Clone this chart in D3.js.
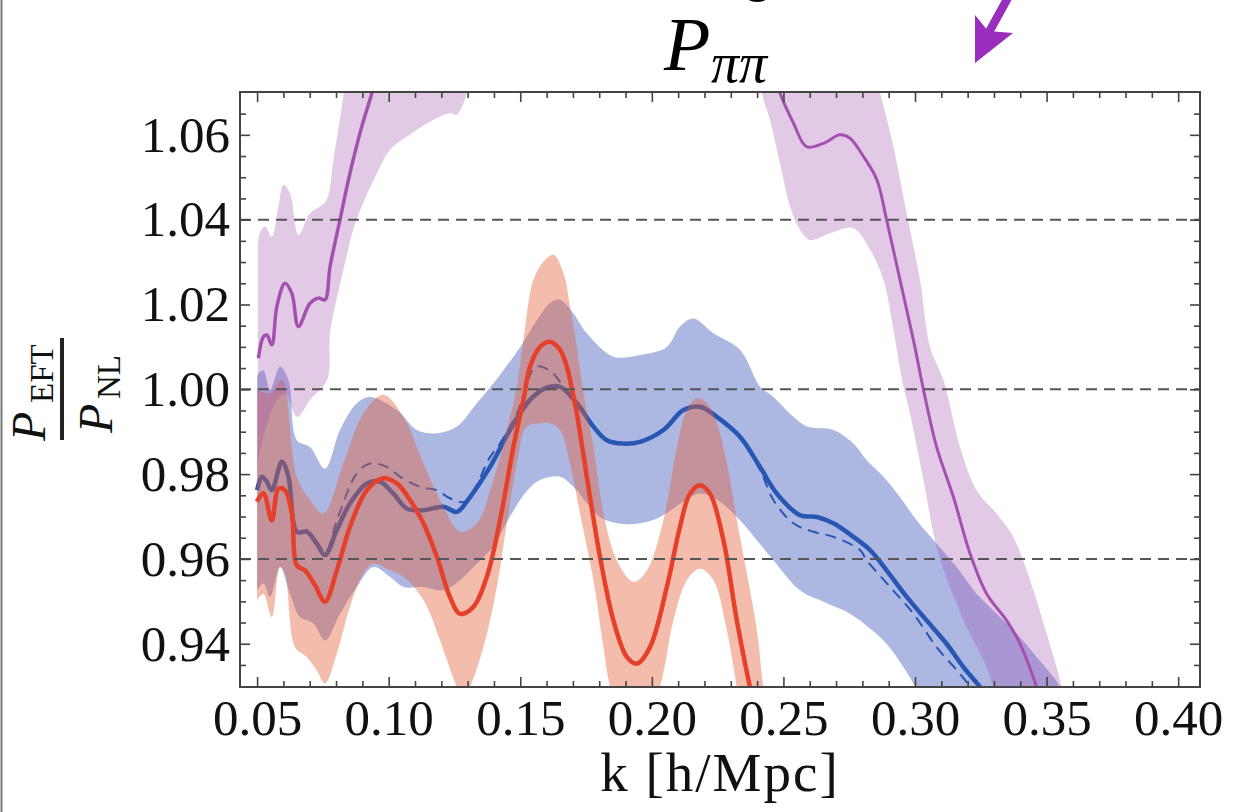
<!DOCTYPE html>
<html><head><meta charset="utf-8">
<script src="https://cdn.jsdelivr.net/npm/d3@7"></script>
<style>html,body{margin:0;padding:0;background:#fff;}</style>
</head><body>
<script>
// ---------- data (k, ratio) ----------
const xMajorTicks = [0.05,0.10,0.15,0.20,0.25,0.30,0.35,0.40];
const xMinorTicks = [0.06,0.07,0.08,0.09,0.11,0.12,0.13,0.14,0.16,0.17,0.18,0.19,0.21,0.22,0.23,0.24,0.26,0.27,0.28,0.29,0.31,0.32,0.33,0.34,0.36,0.37,0.38,0.39];
const yMajorTicks = [0.94,0.96,0.98,1.00,1.02,1.04,1.06];
const yMinorTicks = [0.935,0.945,0.95,0.955,0.965,0.97,0.975,0.985,0.99,0.995,1.005,1.01,1.015,1.025,1.03,1.035,1.045,1.05,1.055,1.065];
const gridValues = [0.96,1.00,1.04];

const purpleLeftMean = [[0.0505,1.0073],[0.0524,1.0124],[0.0537,1.0128],[0.0556,1.0105],[0.0575,1.0195],[0.0606,1.0250],[0.0632,1.0226],[0.0657,1.0148],[0.0701,1.0203],[0.0733,1.0215],[0.0758,1.0211],[0.0777,1.0289],[0.0815,1.0400],[0.0853,1.0510],[0.0898,1.0620],[0.0936,1.0698],[0.0970,1.0780]];
const purpleLeftUpper = [[0.0503,1.0330],[0.0510,1.0368],[0.0530,1.0384],[0.0556,1.0360],[0.0581,1.0431],[0.0600,1.0482],[0.0625,1.0462],[0.0657,1.0364],[0.0701,1.0415],[0.0739,1.0431],[0.0765,1.0447],[0.0790,1.0541],[0.0822,1.0667],[0.0840,1.0750],[0.0870,1.0850]];
const purpleLeftLower = [[0.0503,0.9830],[0.0561,0.9959],[0.0606,0.9990],[0.0652,0.9935],[0.0701,0.9975],[0.0766,1.0022],[0.0777,1.0133],[0.0804,1.0218],[0.0834,1.0298],[0.0865,1.0376],[0.0903,1.0439],[0.0956,1.0510],[0.1005,1.0565],[0.1070,1.0596],[0.1157,1.0631],[0.1233,1.0651],[0.1258,1.0647],[0.1298,1.0698],[0.1320,1.0750]];

const purpleRightMean = [[0.2450,1.0780],[0.2487,1.0698],[0.2538,1.0628],[0.2588,1.0572],[0.2652,1.0580],[0.2715,1.0600],[0.2753,1.0592],[0.2804,1.0549],[0.2855,1.0494],[0.2892,1.0400],[0.2943,1.0258],[0.2994,1.0116],[0.3038,0.9982],[0.3082,0.9864],[0.3146,0.9746],[0.3209,0.9613],[0.3272,0.9518],[0.3348,0.9455],[0.3399,0.9400],[0.3462,0.9298],[0.3490,0.9240]];
const purpleRightUpper = [[0.2400,1.0900],[0.2800,1.0850],[0.2867,1.0700],[0.2918,1.0572],[0.2968,1.0415],[0.3019,1.0258],[0.3057,1.0100],[0.3108,1.0022],[0.3171,0.9864],[0.3234,0.9762],[0.3310,0.9707],[0.3373,0.9652],[0.3437,0.9550],[0.3500,0.9424],[0.3557,0.9298],[0.3580,0.9200]];
const purpleRightLower = [[0.2380,1.0850],[0.2418,1.0698],[0.2449,1.0635],[0.2487,1.0533],[0.2525,1.0431],[0.2563,1.0376],[0.2601,1.0352],[0.2677,1.0368],[0.2766,1.0380],[0.2829,1.0329],[0.2880,1.0258],[0.2918,1.0140],[0.2956,1.0006],[0.2981,0.9943],[0.3032,0.9786],[0.3082,0.9628],[0.3133,0.9534],[0.3196,0.9440],[0.3260,0.9361],[0.3297,0.9298],[0.3320,0.9200]];

const redMean = [[0.0499,0.9735],[0.0524,0.9755],[0.0556,0.9691],[0.0581,0.9766],[0.0606,0.9762],[0.0632,0.9707],[0.0651,0.9585],[0.0682,0.9573],[0.0720,0.9538],[0.0758,0.9499],[0.0803,0.9573],[0.0853,0.9676],[0.0917,0.9762],[0.0980,0.9790],[0.1031,0.9778],[0.1081,0.9739],[0.1132,0.9684],[0.1183,0.9605],[0.1233,0.9510],[0.1271,0.9471],[0.1322,0.9487],[0.1373,0.9558],[0.1423,0.9691],[0.1474,0.9864],[0.1512,0.9975],[0.1537,1.0053],[0.1575,1.0100],[0.1613,1.0112],[0.1651,1.0093],[0.1677,1.0053],[0.1702,0.9983],[0.1715,0.9943],[0.1765,0.9746],[0.1803,0.9605],[0.1854,0.9455],[0.1905,0.9369],[0.1943,0.9353],[0.1993,0.9392],[0.2057,0.9534],[0.2107,0.9676],[0.2145,0.9754],[0.2183,0.9774],[0.2221,0.9754],[0.2272,0.9644],[0.2323,0.9455],[0.2373,0.9298],[0.2400,0.9230]];
const redUpper = [[0.0500,1.0000],[0.0549,0.9990],[0.0594,1.0022],[0.0651,0.9794],[0.0701,0.9739],[0.0752,0.9707],[0.0828,0.9825],[0.0904,0.9943],[0.0980,0.9987],[0.1056,0.9935],[0.1132,0.9825],[0.1208,0.9723],[0.1271,0.9664],[0.1335,0.9684],[0.1398,0.9786],[0.1449,0.9904],[0.1487,1.0006],[0.1512,1.0116],[0.1550,1.0258],[0.1594,1.0305],[0.1626,1.0317],[0.1664,1.0274],[0.1689,1.0195],[0.1715,1.0100],[0.1740,0.9990],[0.1778,0.9864],[0.1816,0.9707],[0.1867,0.9597],[0.1930,0.9546],[0.1981,0.9573],[0.2044,0.9691],[0.2095,0.9864],[0.2133,0.9951],[0.2171,0.9979],[0.2209,0.9967],[0.2247,0.9920],[0.2285,0.9825],[0.2323,0.9691],[0.2361,0.9566],[0.2399,0.9432],[0.2424,0.9298],[0.2450,0.9200]];
const redLower = [[0.0500,0.9503],[0.0524,0.9518],[0.0556,0.9463],[0.0587,0.9581],[0.0606,0.9565],[0.0644,0.9392],[0.0689,0.9369],[0.0727,0.9337],[0.0758,0.9306],[0.0803,0.9377],[0.0853,0.9487],[0.0904,0.9566],[0.0942,0.9589],[0.1000,0.9575],[0.1056,0.9558],[0.1132,0.9503],[0.1195,0.9408],[0.1259,0.9298],[0.1285,0.9270],[0.1309,0.9298],[0.1360,0.9392],[0.1411,0.9534],[0.1449,0.9684],[0.1487,0.9825],[0.1525,0.9912],[0.1575,0.9920],[0.1613,0.9920],[0.1651,0.9904],[0.1689,0.9825],[0.1727,0.9707],[0.1778,0.9550],[0.1816,0.9392],[0.1841,0.9298],[0.1900,0.9170],[0.1950,0.9160],[0.2031,0.9298],[0.2082,0.9455],[0.2133,0.9550],[0.2183,0.9577],[0.2234,0.9550],[0.2285,0.9432],[0.2323,0.9298],[0.2350,0.9200]];

const blueMean = [[0.0500,0.9762],[0.0518,0.9794],[0.0537,0.9782],[0.0556,0.9762],[0.0594,0.9829],[0.0619,0.9794],[0.0651,0.9664],[0.0689,0.9664],[0.0727,0.9636],[0.0758,0.9609],[0.0803,0.9668],[0.0853,0.9731],[0.0917,0.9778],[0.0967,0.9782],[0.1018,0.9754],[0.1069,0.9719],[0.1132,0.9715],[0.1208,0.9723],[0.1259,0.9711],[0.1309,0.9746],[0.1385,0.9817],[0.1461,0.9904],[0.1537,0.9975],[0.1600,1.0004],[0.1651,1.0006],[0.1715,0.9967],[0.1778,0.9912],[0.1829,0.9880],[0.1892,0.9872],[0.1955,0.9876],[0.2044,0.9904],[0.2120,0.9951],[0.2183,0.9959],[0.2247,0.9935],[0.2335,0.9888],[0.2411,0.9817],[0.2475,0.9754],[0.2563,0.9703],[0.2627,0.9699],[0.2690,0.9684],[0.2766,0.9652],[0.2829,0.9621],[0.2892,0.9573],[0.2968,0.9511],[0.3044,0.9455],[0.3120,0.9400],[0.3184,0.9345],[0.3247,0.9298],[0.3300,0.9250]];
const blueDashed = [[0.0500,0.9765],[0.0518,0.9797],[0.0556,0.9765],[0.0594,0.9832],[0.0619,0.9797],[0.0651,0.9667],[0.0689,0.9668],[0.0727,0.9640],[0.0758,0.9612],[0.0803,0.9690],[0.0879,0.9802],[0.0929,0.9825],[0.0993,0.9817],[0.1043,0.9794],[0.1119,0.9770],[0.1183,0.9762],[0.1233,0.9743],[0.1290,0.9735],[0.1385,0.9840],[0.1423,0.9872],[0.1487,0.9943],[0.1560,1.0053],[0.1620,1.0040],[0.1680,0.9990],[0.1740,0.9945],[0.1829,0.9880],[0.1892,0.9872],[0.1955,0.9876],[0.2044,0.9904],[0.2120,0.9951],[0.2183,0.9959],[0.2247,0.9935],[0.2335,0.9885],[0.2411,0.9810],[0.2462,0.9739],[0.2538,0.9684],[0.2614,0.9664],[0.2690,0.9652],[0.2791,0.9621],[0.2816,0.9597],[0.2905,0.9534],[0.2994,0.9471],[0.3082,0.9392],[0.3171,0.9329],[0.3209,0.9298],[0.3250,0.9250]];
const blueUpper = [[0.0500,1.0030],[0.0505,1.0037],[0.0524,1.0045],[0.0549,0.9998],[0.0587,1.0053],[0.0619,1.0022],[0.0651,0.9880],[0.0701,0.9864],[0.0758,0.9813],[0.0815,0.9904],[0.0879,0.9967],[0.0929,0.9982],[0.1031,0.9951],[0.1107,0.9904],[0.1183,0.9896],[0.1259,0.9912],[0.1335,0.9967],[0.1398,1.0014],[0.1436,1.0045],[0.1500,1.0100],[0.1563,1.0163],[0.1613,1.0203],[0.1651,1.0211],[0.1702,1.0179],[0.1753,1.0132],[0.1854,1.0077],[0.1955,1.0081],[0.2057,1.0100],[0.2107,1.0148],[0.2158,1.0167],[0.2234,1.0132],[0.2335,1.0093],[0.2411,1.0006],[0.2462,0.9982],[0.2538,0.9935],[0.2589,0.9912],[0.2690,0.9904],[0.2766,0.9872],[0.2816,0.9833],[0.2880,0.9794],[0.2943,0.9746],[0.3006,0.9691],[0.3082,0.9636],[0.3158,0.9581],[0.3234,0.9518],[0.3310,0.9471],[0.3386,0.9424],[0.3462,0.9369],[0.3526,0.9322],[0.3551,0.9298],[0.3580,0.9250]];
const blueLower = [[0.0500,0.9526],[0.0524,0.9542],[0.0549,0.9510],[0.0587,0.9581],[0.0625,0.9518],[0.0663,0.9463],[0.0714,0.9448],[0.0758,0.9408],[0.0815,0.9471],[0.0879,0.9534],[0.0942,0.9581],[0.1005,0.9558],[0.1056,0.9534],[0.1132,0.9534],[0.1208,0.9526],[0.1271,0.9550],[0.1335,0.9589],[0.1398,0.9630],[0.1461,0.9700],[0.1525,0.9760],[0.1575,0.9786],[0.1651,0.9794],[0.1702,0.9770],[0.1753,0.9731],[0.1803,0.9699],[0.1867,0.9684],[0.1955,0.9684],[0.2031,0.9699],[0.2120,0.9735],[0.2183,0.9754],[0.2247,0.9740],[0.2335,0.9691],[0.2399,0.9644],[0.2462,0.9597],[0.2563,0.9526],[0.2652,0.9499],[0.2753,0.9471],[0.2829,0.9436],[0.2892,0.9400],[0.2956,0.9345],[0.3000,0.9298],[0.3030,0.9250]];

// ---------- layout ----------
const W = 1235, H = 812;
const L = 240, R = 1200, T = 92, B = 687;
const serif = "'Liberation Serif','Times New Roman',Times,serif";

const svg = d3.select("body").append("svg").attr("width", W).attr("height", H)
  .style("display","block").style("background","#fff");

const x = d3.scaleLinear().domain([0.0435, 0.4083]).range([L, R]);
const y = d3.scaleLinear().domain([0.9298, 1.0701]).range([B, T]);

svg.append("defs").append("clipPath").attr("id","plotclip")
  .append("rect").attr("x",L).attr("y",T).attr("width",R-L).attr("height",B-T);

// page border on the left
svg.append("line").attr("x1",1.5).attr("x2",1.5).attr("y1",0).attr("y2",H)
  .attr("stroke","#777").attr("stroke-width",2);

const line = d3.line().x(d=>x(d[0])).y(d=>y(d[1])).curve(d3.curveCatmullRom.alpha(0.5));
function bandPath(upper, lower){
  const a = line(upper);
  const b = line(lower.slice().reverse());
  return a + "L" + b.slice(1) + "Z";
}

const plot = svg.append("g").attr("clip-path","url(#plotclip)");

// blue
plot.append("path").attr("d", bandPath(blueUpper, blueLower))
  .attr("fill","rgb(70,95,190)").attr("fill-opacity",0.45);
plot.append("path").attr("d", line(blueDashed)).attr("fill","none")
  .attr("stroke","#2757b3").attr("stroke-width",2).attr("stroke-dasharray","11,7");
plot.append("path").attr("d", line(blueMean)).attr("fill","none")
  .attr("stroke","#2757b3").attr("stroke-width",4.5);

// red
plot.append("path").attr("d", bandPath(redUpper, redLower))
  .attr("fill","rgb(228,95,55)").attr("fill-opacity",0.42);
plot.append("path").attr("d", line(redMean)).attr("fill","none")
  .attr("stroke","#e5402a").attr("stroke-width",4.5);

// purple
plot.append("path").attr("d", bandPath(purpleLeftUpper, purpleLeftLower))
  .attr("fill","rgb(160,80,172)").attr("fill-opacity",0.3);
plot.append("path").attr("d", bandPath(purpleRightUpper, purpleRightLower))
  .attr("fill","rgb(160,80,172)").attr("fill-opacity",0.3);
plot.append("path").attr("d", line(purpleLeftMean)).attr("fill","none")
  .attr("stroke","#a450b0").attr("stroke-width",3.5);
plot.append("path").attr("d", line(purpleRightMean)).attr("fill","none")
  .attr("stroke","#a450b0").attr("stroke-width",3);

// dashed grid lines
svg.append("g").selectAll("line").data(gridValues).join("line")
  .attr("x1",L).attr("x2",R).attr("y1",d=>y(d)).attr("y2",d=>y(d))
  .attr("stroke","#555").attr("stroke-width",2).attr("stroke-dasharray","11,7");

// axes / ticks
function styleAxis(g){
  g.select(".domain").remove();
  g.selectAll(".tick line").attr("stroke","#444").attr("stroke-width",1.6);
  g.selectAll(".tick text").attr("font-family",serif).attr("font-size",51).attr("fill","#111");
}
const fmt = d3.format(".2f");
svg.append("g").attr("transform",`translate(0,${B})`)
  .call(d3.axisBottom(x).tickValues(xMajorTicks).tickSize(-10).tickPadding(12).tickFormat(fmt)).call(styleAxis);
svg.append("g").attr("transform",`translate(0,${B})`)
  .call(d3.axisBottom(x).tickValues(xMinorTicks).tickSize(-6).tickFormat("")).call(styleAxis);
svg.append("g").attr("transform",`translate(0,${T})`)
  .call(d3.axisTop(x).tickValues(xMajorTicks).tickSize(-10).tickFormat("")).call(styleAxis);
svg.append("g").attr("transform",`translate(0,${T})`)
  .call(d3.axisTop(x).tickValues(xMinorTicks).tickSize(-6).tickFormat("")).call(styleAxis);
svg.append("g").attr("transform",`translate(${L},0)`)
  .call(d3.axisLeft(y).tickValues(yMajorTicks).tickSize(-10).tickPadding(10).tickFormat(fmt)).call(styleAxis);
svg.append("g").attr("transform",`translate(${L},0)`)
  .call(d3.axisLeft(y).tickValues(yMinorTicks).tickSize(-6).tickFormat("")).call(styleAxis);
svg.append("g").attr("transform",`translate(${R},0)`)
  .call(d3.axisRight(y).tickValues(yMajorTicks).tickSize(-10).tickFormat("")).call(styleAxis);
svg.append("g").attr("transform",`translate(${R},0)`)
  .call(d3.axisRight(y).tickValues(yMinorTicks).tickSize(-6).tickFormat("")).call(styleAxis);

// frame
svg.append("rect").attr("x",L).attr("y",T).attr("width",R-L).attr("height",B-T)
  .attr("fill","none").attr("stroke","#444").attr("stroke-width",2);

// title P_{ππ}
const title = svg.append("text").attr("font-family",serif).attr("fill","#000");
title.append("tspan").attr("x",664).attr("y",70).attr("font-size",76).attr("font-style","italic").text("P");
title.append("tspan").attr("x",711).attr("y",82).attr("font-size",56).attr("font-style","italic").text("ππ");

// fragment of text above the panel (cut by the page edge, as in the source)
svg.append("text").attr("x",745).attr("y",-9).attr("font-family",serif).attr("font-size",50).text("g");

// purple arrow
svg.append("line").attr("x1",1010).attr("y1",-6).attr("x2",988).attr("y2",34)
  .attr("stroke","#992dbd").attr("stroke-width",8.5);
svg.append("path").attr("d","M975,63 L975,15 L988,31 L1013,33 Z").attr("fill","#992dbd");

// x label
svg.append("text").attr("x",(L+R)/2).attr("y",791).attr("text-anchor","middle")
  .attr("font-family",serif).attr("font-size",55).attr("letter-spacing",2).attr("fill","#111").text("k [h/Mpc]");

// y label (fraction)
const yl = svg.append("g").attr("transform","translate(62,389) rotate(-90)");
const num = yl.append("text").attr("font-family",serif).attr("fill","#111");
num.append("tspan").attr("x",-52).attr("y",-17).attr("font-size",48).attr("font-style","italic").text("P");
num.append("tspan").attr("x",-14).attr("y",-9).attr("font-size",33).text("EFT");
yl.append("line").attr("x1",-51).attr("x2",51).attr("y1",0).attr("y2",0).attr("stroke","#222").attr("stroke-width",4);
const den = yl.append("text").attr("font-family",serif).attr("fill","#111");
den.append("tspan").attr("x",-44).attr("y",50).attr("font-size",48).attr("font-style","italic").text("P");
den.append("tspan").attr("x",-10).attr("y",58).attr("font-size",33).text("NL");
</script>
</body></html>
